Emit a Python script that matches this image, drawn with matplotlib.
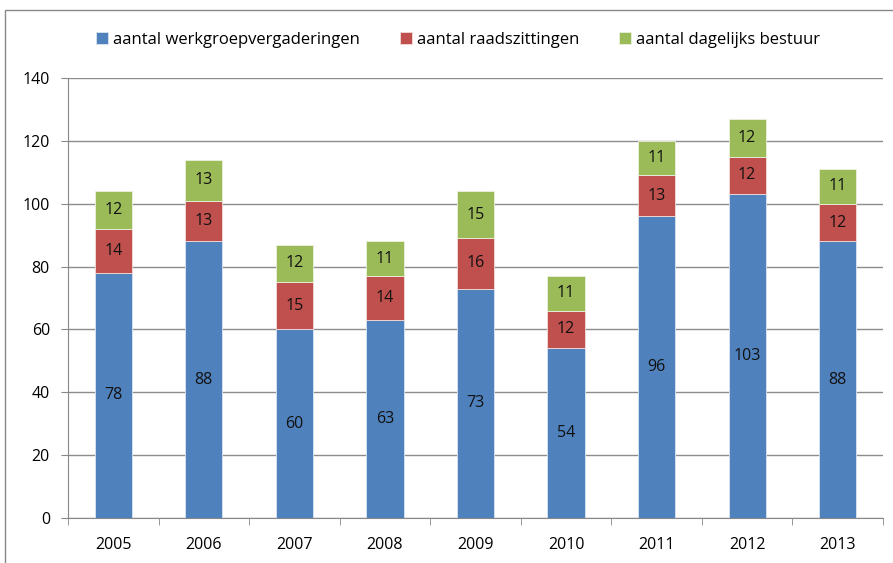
import numpy as np
import matplotlib.pyplot as plt
from matplotlib.patches import Rectangle

years = ['2005', '2006', '2007', '2008', '2009', '2010', '2011', '2012', '2013']
werkgroep = [78, 88, 60, 63, 73, 54, 96, 103, 88]
raad = [14, 13, 15, 14, 16, 12, 13, 12, 12]
dagelijks = [12, 13, 12, 11, 15, 11, 11, 12, 11]

plt.rcParams['font.family'] = ['Open Sans', 'DejaVu Sans']

fig = plt.figure(figsize=(8.93, 5.63), dpi=100)
fig.patches.append(Rectangle((5 / 893, -0.1), 1.2, 1.1 - 10 / 563 + 0.0,
                             transform=fig.transFigure, fill=False,
                             edgecolor='#888888', linewidth=1.0))
ax = fig.add_axes([68 / 893, 45 / 563, 815 / 893, 440 / 563])

x = np.arange(len(years))
w = 0.41
b1 = ax.bar(x, werkgroep, w, color='#4F81BD', edgecolor='#DCE6F2', linewidth=0.6,
            label='aantal werkgroepvergaderingen', zorder=3)
b2 = ax.bar(x, raad, w, bottom=werkgroep, color='#C0504D', edgecolor='#F2DCDB',
            linewidth=0.6, label='aantal raadszittingen', zorder=3)
bottom3 = np.array(werkgroep) + np.array(raad)
b3 = ax.bar(x, dagelijks, w, bottom=bottom3, color='#9BBB59', edgecolor='#EBF1DE',
            linewidth=0.6, label='aantal dagelijks bestuur', zorder=3)

for bars in (b1, b2, b3):
    ax.bar_label(bars, label_type='center', fontsize=11.5, color='#111111')

ax.set_ylim(0, 140)
ax.set_yticks(range(0, 141, 20))
ax.set_xlim(-0.5, len(years) - 0.5)
ax.set_xticks(x)
ax.set_xticklabels(years)
ax.set_xticks(np.arange(-0.5, len(years)), minor=True)
ax.tick_params(axis='x', which='major', length=0, pad=14, labelsize=11.5)
ax.tick_params(axis='x', which='minor', length=5, color='#888888')
ax.tick_params(axis='y', length=5, color='#888888', labelsize=11.5, pad=8)
ax.yaxis.grid(True, color='#8c8c8c', linewidth=1.0, zorder=0)
for s in ('top', 'right'):
    ax.spines[s].set_visible(False)
for s in ('left', 'bottom'):
    ax.spines[s].set_color('#888888')

fig.legend(handles=[b1, b2, b3], loc='center', bbox_to_anchor=(0.513, 1 - 40 / 563),
           ncol=3, frameon=False, fontsize=12, handlelength=0.7, handleheight=0.7,
           handletextpad=0.3, columnspacing=2.4)

fig.savefig('out.png', dpi=100)
